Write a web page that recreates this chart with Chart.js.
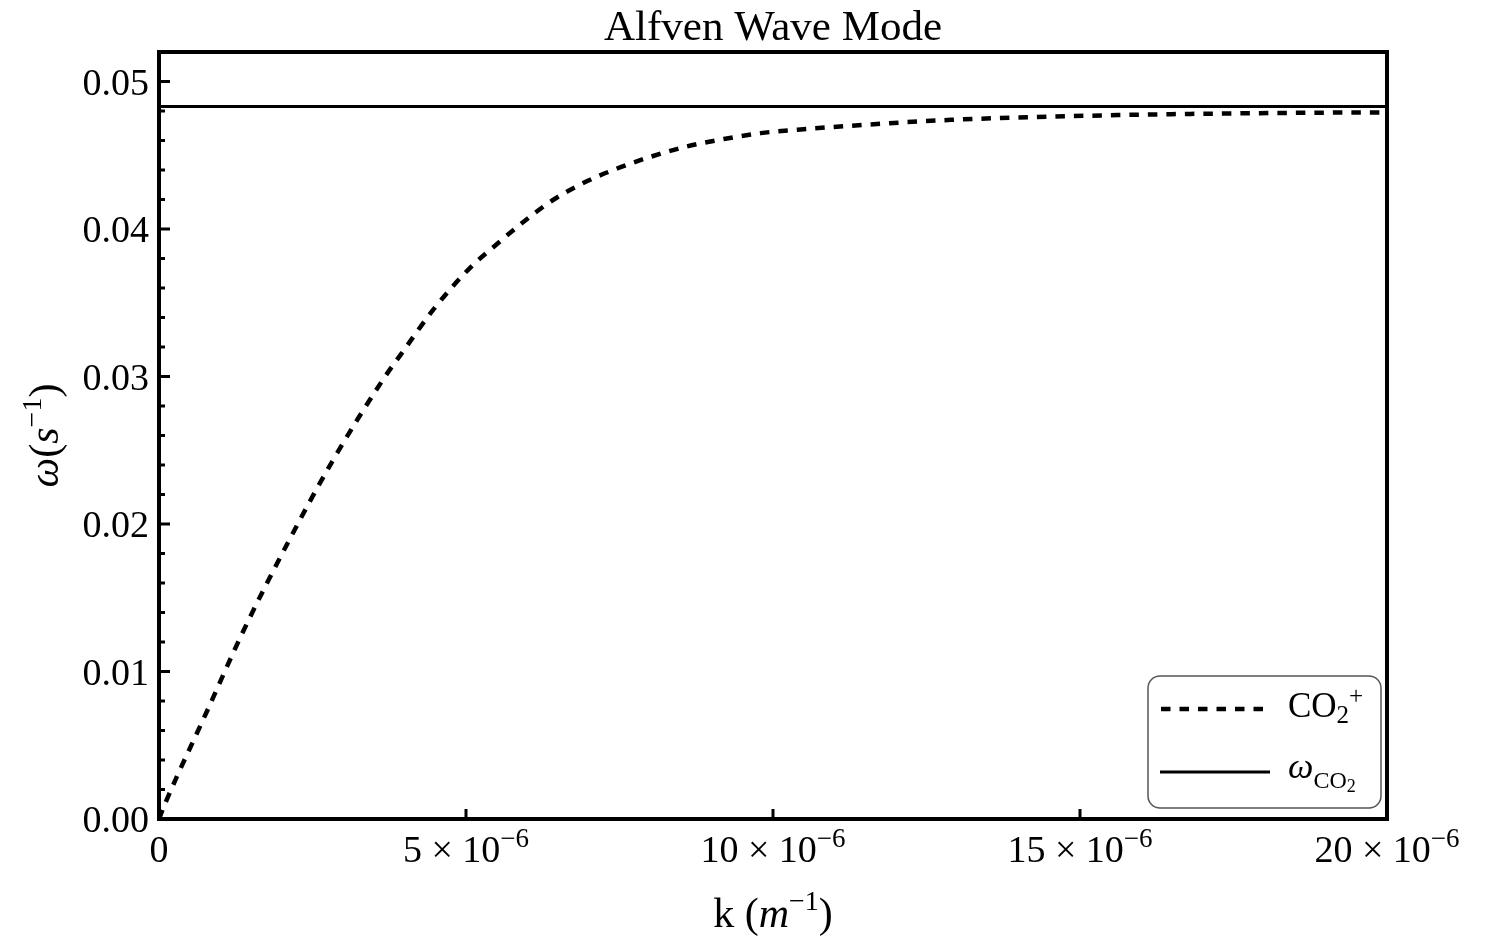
<!DOCTYPE html>
<html>
<head>
<meta charset="utf-8">
<title>Alfven Wave Mode</title>
<script src="https://cdn.jsdelivr.net/npm/chart.js@4.4.1/dist/chart.umd.min.js"></script>
<style>
  html, body { margin: 0; padding: 0; background: #fff; }
  #wrap { width: 1489px; height: 937px; }
</style>
</head>
<body>
<div id="wrap"><canvas id="chart" width="1489" height="937"></canvas></div>
<script>
// --- data: wavenumber k (m^-1) and frequency omega (s^-1) ---
const kValues = [0, 0.11e-6, 0.77e-6, 1.38e-6, 2.12e-6, 2.83e-6, 3.65e-6, 3.94e-6, 4.48e-6,
                 5.05e-6, 5.51e-6, 5.97e-6, 6.43e-6, 6.95e-6, 7.46e-6, 8.01e-6, 8.60e-6,
                 9.20e-6, 9.80e-6, 10.61e-6, 11.26e-6, 12.9e-6, 15.35e-6, 17.8e-6, 19.87e-6, 20e-6];
const omegaAlfven = [0, 0.00115, 0.0072, 0.0128, 0.0189, 0.0243, 0.0298, 0.0315, 0.0346,
                     0.0373, 0.0390, 0.0406, 0.0420, 0.0432, 0.0441, 0.0449, 0.0456,
                     0.0461, 0.0465, 0.0468, 0.0470, 0.0474, 0.0477, 0.04785, 0.0479, 0.0479];

// cyclotron frequency of CO2+ (flat)
const kRange = [0, 20e-6];
const omegaCyclotron = [0.0483, 0.0483];

const seriesNames = ['CO2+', 'ωCO2'];

const xTicks = [0, 5e-6, 10e-6, 15e-6, 20e-6];
const xTickBase = ['0', '5 × 10', '10 × 10', '15 × 10', '20 × 10'];
const xTickExp = ['', '−6', '−6', '−6', '−6'];
const yTicks = [0, 0.01, 0.02, 0.03, 0.04, 0.05];
const yTickLabels = ['0.00', '0.01', '0.02', '0.03', '0.04', '0.05'];
const yMinorStep = 0.002;

const SERIF = '"Liberation Serif", "Times New Roman", serif';
function font(size, italic) { return (italic ? 'italic ' : '') + size + 'px ' + SERIF; }

// a run of text pieces: [text, size, italic, rise]
function runWidth(ctx, parts) {
    let w = 0;
    parts.forEach(p => { ctx.font = font(p[1], p[2]); w += ctx.measureText(p[0]).width; });
    return w;
}
function drawRun(ctx, parts, x, y) {
    let cx = x;
    parts.forEach(p => {
        ctx.font = font(p[1], p[2]);
        ctx.fillText(p[0], cx, y - (p[3] || 0));
        cx += ctx.measureText(p[0]).width;
    });
}

// frame, inward ticks, labels, titles and legend
const decorations = {
    id: 'decorations',
    afterDraw(chart) {
        const ctx = chart.ctx;
        const a = chart.chartArea;
        const xs = chart.scales.x, ys = chart.scales.y;
        ctx.save();
        ctx.fillStyle = '#000';
        ctx.strokeStyle = '#000';
        ctx.textAlign = 'left';
        ctx.textBaseline = 'alphabetic';

        // y ticks (major + minor)
        ctx.lineWidth = 3;
        const nMinor = Math.round(ys.max / yMinorStep);
        for (let i = 0; i <= nMinor; i++) {
            const v = i * yMinorStep;
            const py = ys.getPixelForValue(v);
            const len = (i % 5 === 0) ? 11 : 6;
            ctx.beginPath();
            ctx.moveTo(a.left, py);
            ctx.lineTo(a.left + len, py);
            ctx.stroke();
        }
        // x ticks
        xTicks.forEach(v => {
            const px = xs.getPixelForValue(v);
            ctx.beginPath();
            ctx.moveTo(px, a.bottom);
            ctx.lineTo(px, a.bottom - 10);
            ctx.stroke();
        });

        // frame
        ctx.lineWidth = 4;
        ctx.strokeRect(a.left, a.top, a.right - a.left, a.bottom - a.top);

        // y tick labels
        ctx.font = font(38);
        ctx.textAlign = 'right';
        yTicks.forEach((v, i) => {
            ctx.fillText(yTickLabels[i], a.left - 10, ys.getPixelForValue(v) + 13);
        });
        ctx.textAlign = 'left';

        // x tick labels
        xTicks.forEach((v, i) => {
            const parts = [[xTickBase[i], 38, false, 0]];
            if (xTickExp[i]) parts.push([xTickExp[i], 27, false, 15]);
            const w = runWidth(ctx, parts);
            drawRun(ctx, parts, xs.getPixelForValue(v) - w / 2, 862);
        });

        // title
        ctx.font = font(43);
        ctx.textAlign = 'center';
        ctx.fillText('Alfven Wave Mode', (a.left + a.right) / 2, 40);
        ctx.textAlign = 'left';

        // x axis title
        const xt = [['k (', 42, false, 0], ['m', 42, true, 0], ['−1', 28, false, 17], [')', 42, false, 0]];
        drawRun(ctx, xt, (a.left + a.right) / 2 - runWidth(ctx, xt) / 2, 927);

        // y axis title
        const yt = [['ω', 42, true, 0], ['(', 42, false, 0], ['s', 42, true, 0], ['−1', 28, false, 17], [')', 42, false, 0]];
        ctx.save();
        ctx.translate(58, (a.top + a.bottom) / 2);
        ctx.rotate(-Math.PI / 2);
        drawRun(ctx, yt, -runWidth(ctx, yt) / 2, 0);
        ctx.restore();

        // legend box
        const bx = 1148, by = 676, bw = 233, bh = 132, r = 12;
        ctx.fillStyle = '#fff';
        ctx.strokeStyle = '#555';
        ctx.lineWidth = 1.5;
        ctx.beginPath();
        ctx.moveTo(bx + r, by);
        ctx.arcTo(bx + bw, by, bx + bw, by + bh, r);
        ctx.arcTo(bx + bw, by + bh, bx, by + bh, r);
        ctx.arcTo(bx, by + bh, bx, by, r);
        ctx.arcTo(bx, by, bx + bw, by, r);
        ctx.closePath();
        ctx.fill();
        ctx.stroke();

        ctx.fillStyle = '#000';
        const ds = chart.data.datasets;
        // dashed sample + CO2+
        ctx.strokeStyle = ds[0].borderColor;
        ctx.lineWidth = ds[0].borderWidth;
        ctx.setLineDash(ds[0].borderDash);
        ctx.beginPath();
        ctx.moveTo(1161, 709);
        ctx.lineTo(1268, 709);
        ctx.stroke();
        ctx.setLineDash([]);
        drawRun(ctx, [['CO', 35, false, 0], ['2', 25, false, -6], ['+', 25, false, 13]], 1288, 717);

        // solid sample + omega_CO2
        ctx.strokeStyle = ds[1].borderColor;
        ctx.lineWidth = ds[1].borderWidth;
        ctx.beginPath();
        ctx.moveTo(1160, 772);
        ctx.lineTo(1270, 772);
        ctx.stroke();
        drawRun(ctx, [['ω', 36, true, 0], ['CO', 24, false, -10], ['2', 18, false, -14]], 1288, 778);

        ctx.restore();
    }
};

const ctx = document.getElementById('chart').getContext('2d');
new Chart(ctx, {
    type: 'line',
    data: {
        datasets: [
            {
                label: seriesNames[0],
                data: kValues.map((k, i) => ({ x: k, y: omegaAlfven[i] })),
                borderColor: '#000',
                borderWidth: 4.5,
                borderDash: [9.5, 9],
                pointRadius: 0,
                cubicInterpolationMode: 'monotone',
                fill: false
            },
            {
                label: seriesNames[1],
                data: kRange.map((k, i) => ({ x: k, y: omegaCyclotron[i] })),
                borderColor: '#000',
                borderWidth: 3,
                pointRadius: 0,
                fill: false
            }
        ]
    },
    options: {
        responsive: false,
        animation: false,
        devicePixelRatio: 1,
        layout: { padding: { left: 159, right: 102, top: 52, bottom: 118 } },
        plugins: {
            legend: { display: false },
            tooltip: { enabled: false },
            title: { display: false }
        },
        scales: {
            x: { type: 'linear', min: 0, max: 20e-6, display: false },
            y: { type: 'linear', min: 0, max: 0.052, display: false }
        }
    },
    plugins: [decorations]
});
</script>
</body>
</html>
